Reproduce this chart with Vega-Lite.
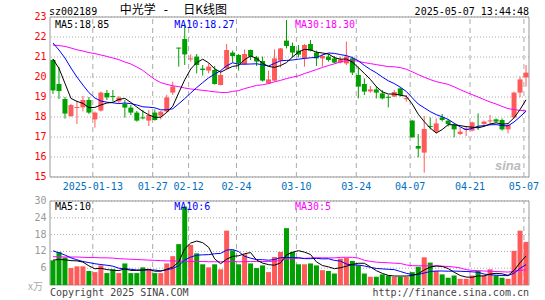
{
"$schema":"https://vega.github.io/schema/vega-lite/v6.json",
"width":479,"height":268,
"autosize":"none",
"padding":{"left":50,"top":17,"right":16,"bottom":15},
"background":"white",
"config":{"view":{"stroke":null},"scale":{"bandPaddingInner":0,"bandPaddingOuter":0}},
"datasets":{
"k":[
{"d":"2025-01-02","o":20.85,"h":20.9,"l":19.15,"c":19.33,"v":8.8,"m5":20.9,"m10":21.7,"m30":21.6,"vm5":8.9,"vm10":12.2,"vm30":10.1},
{"d":"2025-01-03","o":19.65,"h":20.5,"l":18.9,"c":19.3,"v":11.8,"m5":20.43,"m10":21.35,"m30":21.57,"vm5":9.1,"vm10":11.5,"vm30":10.1},
{"d":"2025-01-06","o":18.9,"h":19.0,"l":17.92,"c":18.17,"v":9.8,"m5":19.68,"m10":20.95,"m30":21.53,"vm5":9.0,"vm10":10.7,"vm30":10.0},
{"d":"2025-01-07","o":18.05,"h":18.65,"l":18.0,"c":18.6,"v":6.05,"m5":18.93,"m10":20.45,"m30":21.45,"vm5":8.7,"vm10":9.7,"vm30":10.0},
{"d":"2025-01-08","o":18.45,"h":18.82,"l":17.65,"c":18.5,"v":6.66,"m5":18.78,"m10":20.0,"m30":21.36,"vm5":8.62,"vm10":9.0,"vm30":10.0},
{"d":"2025-01-09","o":18.48,"h":19.05,"l":18.28,"c":18.85,"v":6.66,"m5":18.68,"m10":19.6,"m30":21.3,"vm5":8.19,"vm10":8.4,"vm30":9.9},
{"d":"2025-01-10","o":18.85,"h":19.0,"l":18.15,"c":18.22,"v":5.0,"m5":18.47,"m10":19.22,"m30":21.22,"vm5":6.83,"vm10":8.0,"vm30":9.8},
{"d":"2025-01-13","o":17.88,"h":18.27,"l":17.47,"c":18.22,"v":4.6,"m5":18.48,"m10":18.95,"m30":21.17,"vm5":5.79,"vm10":7.6,"vm30":9.8},
{"d":"2025-01-14","o":18.32,"h":19.27,"l":18.27,"c":19.22,"v":7.0,"m5":18.6,"m10":18.8,"m30":21.1,"vm5":5.98,"vm10":7.3,"vm30":9.7},
{"d":"2025-01-15","o":19.2,"h":19.35,"l":18.85,"c":18.98,"v":4.25,"m5":18.7,"m10":18.74,"m30":21.03,"vm5":5.5,"vm10":7.06,"vm30":9.7},
{"d":"2025-01-16","o":19.05,"h":19.35,"l":18.77,"c":19.0,"v":5.6,"m5":18.73,"m10":18.71,"m30":20.95,"vm5":5.29,"vm10":6.74,"vm30":9.6},
{"d":"2025-01-17","o":18.78,"h":19.05,"l":18.7,"c":18.97,"v":4.25,"m5":18.88,"m10":18.67,"m30":20.87,"vm5":5.14,"vm10":5.99,"vm30":9.4},
{"d":"2025-01-20","o":18.65,"h":18.85,"l":17.97,"c":18.47,"v":7.7,"m5":18.93,"m10":18.7,"m30":20.75,"vm5":5.76,"vm10":5.78,"vm30":9.3},
{"d":"2025-01-21","o":18.47,"h":18.6,"l":18.1,"c":18.22,"v":4.25,"m5":18.73,"m10":18.67,"m30":20.65,"vm5":5.21,"vm10":5.6,"vm30":9.2},
{"d":"2025-01-22","o":18.22,"h":18.3,"l":17.77,"c":17.82,"v":4.25,"m5":18.5,"m10":18.6,"m30":20.5,"vm5":5.21,"vm10":5.36,"vm30":9.1},
{"d":"2025-01-23","o":17.98,"h":18.35,"l":17.88,"c":17.93,"v":6.3,"m5":18.28,"m10":18.51,"m30":20.33,"vm5":5.35,"vm10":5.32,"vm30":9.0},
{"d":"2025-01-24","o":17.82,"h":18.35,"l":17.55,"c":18.1,"v":5.6,"m5":18.11,"m10":18.49,"m30":20.1,"vm5":5.62,"vm10":5.38,"vm30":8.9},
{"d":"2025-01-27","o":18.22,"h":18.38,"l":17.82,"c":17.85,"v":4.25,"m5":17.98,"m10":18.46,"m30":19.88,"vm5":4.93,"vm10":5.35,"vm30":8.8},
{"d":"2025-02-05","o":18.07,"h":18.3,"l":17.88,"c":18.27,"v":4.25,"m5":17.99,"m10":18.36,"m30":19.72,"vm5":4.93,"vm10":5.07,"vm30":8.7},
{"d":"2025-02-06","o":18.27,"h":19.1,"l":18.2,"c":18.98,"v":7.7,"m5":18.23,"m10":18.36,"m30":19.63,"vm5":5.62,"vm10":5.42,"vm30":8.6},
{"d":"2025-02-07","o":19.22,"h":19.77,"l":19.1,"c":19.52,"v":10.3,"m5":18.54,"m10":18.41,"m30":19.56,"vm5":6.42,"vm10":5.89,"vm30":8.6},
{"d":"2025-02-10","o":21.47,"h":21.47,"l":20.52,"c":21.42,"v":14.6,"m5":19.21,"m10":18.66,"m30":19.52,"vm5":8.22,"vm10":6.92,"vm30":8.5},
{"d":"2025-02-11","o":21.9,"h":22.62,"l":20.6,"c":21.13,"v":28.0,"m5":19.86,"m10":18.92,"m30":19.45,"vm5":12.97,"vm10":8.95,"vm30":8.5},
{"d":"2025-02-12","o":20.88,"h":21.13,"l":20.77,"c":20.93,"v":14.3,"m5":20.4,"m10":19.2,"m30":19.4,"vm5":14.98,"vm10":9.96,"vm30":8.4},
{"d":"2025-02-13","o":21.02,"h":21.15,"l":20.18,"c":20.6,"v":11.3,"m5":20.72,"m10":19.47,"m30":19.37,"vm5":15.7,"vm10":10.66,"vm30":8.4},
{"d":"2025-02-14","o":20.42,"h":20.6,"l":20.07,"c":20.35,"v":7.4,"m5":20.89,"m10":19.72,"m30":19.33,"vm5":15.12,"vm10":10.77,"vm30":8.4},
{"d":"2025-02-17","o":20.32,"h":20.68,"l":20.18,"c":20.52,"v":6.3,"m5":20.71,"m10":19.96,"m30":19.3,"vm5":13.46,"vm10":10.84,"vm30":8.3},
{"d":"2025-02-18","o":20.35,"h":20.55,"l":19.62,"c":19.65,"v":7.4,"m5":20.41,"m10":20.14,"m30":19.26,"vm5":9.34,"vm10":11.16,"vm30":8.3},
{"d":"2025-02-19","o":19.6,"h":20.32,"l":19.58,"c":20.1,"v":5.6,"m5":20.24,"m10":20.32,"m30":19.23,"vm5":7.6,"vm10":11.29,"vm30":8.3},
{"d":"2025-02-20","o":20.43,"h":21.65,"l":20.38,"c":21.35,"v":19.4,"m5":20.39,"m10":20.56,"m30":19.22,"vm5":9.22,"vm10":12.46,"vm30":8.31},
{"d":"2025-02-21","o":21.22,"h":21.32,"l":20.72,"c":21.05,"v":12.4,"m5":20.53,"m10":20.71,"m30":19.28,"vm5":10.22,"vm10":12.67,"vm30":8.43},
{"d":"2025-02-24","o":21.1,"h":21.15,"l":20.32,"c":20.68,"v":7.4,"m5":20.57,"m10":20.64,"m30":19.32,"vm5":10.44,"vm10":11.95,"vm30":8.29},
{"d":"2025-02-25","o":20.65,"h":21.38,"l":20.6,"c":21.15,"v":11.0,"m5":20.87,"m10":20.64,"m30":19.42,"vm5":11.16,"vm10":10.25,"vm30":8.33},
{"d":"2025-02-26","o":21.35,"h":21.37,"l":20.85,"c":21.02,"v":7.7,"m5":21.05,"m10":20.65,"m30":19.5,"vm5":11.58,"vm10":9.59,"vm30":8.38},
{"d":"2025-02-27","o":20.98,"h":21.05,"l":20.55,"c":20.77,"v":6.05,"m5":20.93,"m10":20.66,"m30":19.58,"vm5":8.91,"vm10":9.07,"vm30":8.36},
{"d":"2025-02-28","o":20.8,"h":21.02,"l":19.77,"c":19.82,"v":7.0,"m5":20.69,"m10":20.61,"m30":19.61,"vm5":7.83,"vm10":9.03,"vm30":8.37},
{"d":"2025-03-03","o":19.68,"h":20.32,"l":19.65,"c":19.88,"v":4.6,"m5":20.53,"m10":20.55,"m30":19.67,"vm5":7.27,"vm10":8.86,"vm30":8.36},
{"d":"2025-03-04","o":19.82,"h":21.38,"l":19.77,"c":20.93,"v":10.0,"m5":20.48,"m10":20.68,"m30":19.76,"vm5":7.07,"vm10":9.12,"vm30":8.54},
{"d":"2025-03-05","o":20.82,"h":21.45,"l":20.48,"c":21.43,"v":11.8,"m5":20.57,"m10":20.81,"m30":19.83,"vm5":7.89,"vm10":9.74,"vm30":8.7},
{"d":"2025-03-06","o":21.82,"h":22.85,"l":21.43,"c":21.55,"v":20.3,"m5":20.72,"m10":20.83,"m30":19.92,"vm5":10.74,"vm10":9.83,"vm30":9.23},
{"d":"2025-03-07","o":21.55,"h":21.72,"l":20.98,"c":21.22,"v":11.8,"m5":21.0,"m10":20.85,"m30":19.99,"vm5":11.7,"vm10":9.77,"vm30":9.44},
{"d":"2025-03-10","o":21.32,"h":21.6,"l":20.98,"c":21.12,"v":7.4,"m5":21.25,"m10":20.89,"m30":20.06,"vm5":12.26,"vm10":9.77,"vm30":9.55},
{"d":"2025-03-11","o":20.93,"h":21.65,"l":20.52,"c":21.6,"v":7.4,"m5":21.38,"m10":20.93,"m30":20.17,"vm5":11.74,"vm10":9.41,"vm30":9.54},
{"d":"2025-03-12","o":21.65,"h":21.85,"l":21.28,"c":21.32,"v":7.7,"m5":21.36,"m10":20.96,"m30":20.27,"vm5":10.92,"vm10":9.41,"vm30":9.65},
{"d":"2025-03-13","o":21.22,"h":21.32,"l":20.55,"c":20.93,"v":7.0,"m5":21.24,"m10":20.98,"m30":20.37,"vm5":8.26,"vm10":9.5,"vm30":9.74},
{"d":"2025-03-14","o":20.93,"h":21.15,"l":20.52,"c":21.05,"v":5.3,"m5":21.2,"m10":21.1,"m30":20.48,"vm5":6.96,"vm10":9.33,"vm30":9.71},
{"d":"2025-03-17","o":21.02,"h":21.15,"l":20.77,"c":20.85,"v":5.0,"m5":21.15,"m10":21.2,"m30":20.57,"vm5":6.48,"vm10":9.37,"vm30":9.69},
{"d":"2025-03-18","o":20.93,"h":21.05,"l":20.68,"c":20.72,"v":4.1,"m5":20.97,"m10":21.18,"m30":20.66,"vm5":5.82,"vm10":8.78,"vm30":9.68},
{"d":"2025-03-19","o":20.72,"h":21.02,"l":20.68,"c":20.88,"v":9.4,"m5":20.89,"m10":21.12,"m30":20.75,"vm5":6.16,"vm10":8.54,"vm30":9.86},
{"d":"2025-03-20","o":20.68,"h":21.77,"l":20.6,"c":21.02,"v":9.7,"m5":20.9,"m10":21.07,"m30":20.82,"vm5":6.7,"vm10":7.48,"vm30":9.92},
{"d":"2025-03-21","o":20.93,"h":21.02,"l":20.1,"c":20.22,"v":8.6,"m5":20.74,"m10":20.97,"m30":20.84,"vm5":7.36,"vm10":7.16,"vm30":9.87},
{"d":"2025-03-24","o":20.1,"h":20.52,"l":18.93,"c":19.52,"v":7.0,"m5":20.47,"m10":20.81,"m30":20.78,"vm5":7.76,"vm10":7.12,"vm30":9.61},
{"d":"2025-03-25","o":19.65,"h":19.93,"l":19.1,"c":19.27,"v":4.1,"m5":20.18,"m10":20.58,"m30":20.72,"vm5":7.76,"vm10":6.79,"vm30":8.82},
{"d":"2025-03-26","o":19.28,"h":19.55,"l":19.22,"c":19.38,"v":2.95,"m5":19.88,"m10":20.38,"m30":20.67,"vm5":6.47,"vm10":6.32,"vm30":8.44},
{"d":"2025-03-27","o":19.38,"h":19.55,"l":18.93,"c":19.22,"v":2.95,"m5":19.52,"m10":20.21,"m30":20.62,"vm5":5.12,"vm10":5.91,"vm30":8.16},
{"d":"2025-03-28","o":19.18,"h":19.35,"l":18.88,"c":18.93,"v":3.8,"m5":19.26,"m10":20.0,"m30":20.57,"vm5":4.16,"vm10":5.76,"vm30":8.04},
{"d":"2025-03-31","o":19.01,"h":19.1,"l":18.48,"c":18.96,"v":3.4,"m5":19.15,"m10":19.81,"m30":20.52,"vm5":3.44,"vm10":5.6,"vm30":7.94},
{"d":"2025-04-01","o":19.02,"h":19.35,"l":19.0,"c":19.25,"v":2.95,"m5":19.15,"m10":19.67,"m30":20.51,"vm5":3.21,"vm10":5.49,"vm30":7.79},
{"d":"2025-04-02","o":19.43,"h":19.48,"l":19.02,"c":19.1,"v":2.95,"m5":19.09,"m10":19.49,"m30":20.47,"vm5":3.21,"vm10":4.84,"vm30":7.71},
{"d":"2025-04-03","o":18.89,"h":19.1,"l":18.77,"c":18.94,"v":2.95,"m5":19.04,"m10":19.28,"m30":20.39,"vm5":3.21,"vm10":4.17,"vm30":7.16},
{"d":"2025-04-07","o":17.82,"h":17.85,"l":16.97,"c":16.98,"v":4.6,"m5":18.65,"m10":18.96,"m30":20.26,"vm5":3.37,"vm10":3.77,"vm30":6.9},
{"d":"2025-04-08","o":16.55,"h":17.15,"l":15.98,"c":16.42,"v":6.5,"m5":18.14,"m10":18.65,"m30":20.12,"vm5":3.99,"vm10":3.72,"vm30":6.87},
{"d":"2025-04-09","o":16.22,"h":18.05,"l":15.22,"c":17.4,"v":9.9,"m5":17.77,"m10":18.46,"m30":19.99,"vm5":5.38,"vm10":4.3,"vm30":6.83},
{"d":"2025-04-10","o":17.55,"h":17.98,"l":17.38,"c":17.5,"v":8.0,"m5":17.45,"m10":18.27,"m30":19.87,"vm5":6.39,"vm10":4.8,"vm30":6.84},
{"d":"2025-04-11","o":17.27,"h":17.93,"l":17.18,"c":17.68,"v":5.0,"m5":17.2,"m10":18.12,"m30":19.77,"vm5":6.8,"vm10":5.0,"vm30":6.81},
{"d":"2025-04-14","o":17.98,"h":18.15,"l":17.77,"c":17.85,"v":3.8,"m5":17.37,"m10":18.01,"m30":19.7,"vm5":6.64,"vm10":5.0,"vm30":6.7},
{"d":"2025-04-15","o":17.82,"h":17.9,"l":17.52,"c":17.65,"v":2.6,"m5":17.62,"m10":17.88,"m30":19.63,"vm5":5.86,"vm10":4.93,"vm30":6.63},
{"d":"2025-04-16","o":17.6,"h":17.68,"l":16.98,"c":17.38,"v":3.4,"m5":17.61,"m10":17.69,"m30":19.51,"vm5":4.56,"vm10":4.97,"vm30":6.41},
{"d":"2025-04-17","o":17.15,"h":17.48,"l":17.1,"c":17.27,"v":2.2,"m5":17.57,"m10":17.51,"m30":19.37,"vm5":3.4,"vm10":4.9,"vm30":6.09},
{"d":"2025-04-18","o":17.35,"h":17.55,"l":17.05,"c":17.43,"v":2.2,"m5":17.52,"m10":17.36,"m30":19.24,"vm5":2.84,"vm10":4.82,"vm30":5.49},
{"d":"2025-04-21","o":17.32,"h":17.77,"l":17.28,"c":17.73,"v":3.4,"m5":17.49,"m10":17.43,"m30":19.12,"vm5":2.76,"vm10":4.7,"vm30":5.21},
{"d":"2025-04-22","o":17.52,"h":18.18,"l":17.35,"c":17.47,"v":5.0,"m5":17.46,"m10":17.54,"m30":19.0,"vm5":3.24,"vm10":4.55,"vm30":5.13},
{"d":"2025-04-23","o":17.65,"h":17.82,"l":17.6,"c":17.77,"v":3.4,"m5":17.53,"m10":17.57,"m30":18.87,"vm5":3.24,"vm10":3.9,"vm30":5.0},
{"d":"2025-04-24","o":17.78,"h":18.1,"l":17.6,"c":17.83,"v":5.6,"m5":17.65,"m10":17.61,"m30":18.75,"vm5":3.92,"vm10":3.66,"vm30":4.93},
{"d":"2025-04-25","o":17.88,"h":17.93,"l":17.72,"c":17.77,"v":3.4,"m5":17.71,"m10":17.62,"m30":18.65,"vm5":4.16,"vm10":3.5,"vm30":4.81},
{"d":"2025-04-28","o":17.85,"h":17.93,"l":17.32,"c":17.38,"v":2.6,"m5":17.64,"m10":17.57,"m30":18.53,"vm5":4.0,"vm10":3.38,"vm30":4.72},
{"d":"2025-04-29","o":17.38,"h":17.68,"l":17.18,"c":17.6,"v":2.2,"m5":17.67,"m10":17.56,"m30":18.42,"vm5":3.44,"vm10":3.34,"vm30":4.62},
{"d":"2025-04-30","o":17.98,"h":19.27,"l":17.93,"c":19.22,"v":12.2,"m5":17.96,"m10":17.75,"m30":18.37,"vm5":5.2,"vm10":4.22,"vm30":4.89},
{"d":"2025-05-06","o":19.22,"h":20.02,"l":18.98,"c":19.88,"v":19.4,"m5":18.37,"m10":18.01,"m30":18.33,"vm5":7.96,"vm10":5.94,"vm30":5.23},
{"d":"2025-05-07","o":19.98,"h":20.6,"l":19.52,"c":20.22,"v":15.4,"m5":18.86,"m10":18.29,"m30":18.31,"vm5":10.36,"vm10":7.26,"vm30":5.42}
],
"grid":[
{"d":"2025-01-13","lab":"2025-01-13"},{"d":"2025-01-27","lab":"01-27"},{"d":"2025-02-12","lab":"02-12"},{"d":"2025-02-24","lab":"02-24"},{"d":"2025-03-10","lab":"03-10"},{"d":"2025-03-24","lab":"03-24"},{"d":"2025-04-07","lab":"04-07"},{"d":"2025-04-21","lab":"04-21"},{"d":"2025-05-07","lab":"05-07"}
],
"pt":[{"p":15},{"p":16},{"p":17},{"p":18},{"p":19},{"p":20},{"p":21},{"p":22},{"p":23}],
"vt":[{"v":6},{"v":12},{"v":18},{"v":24},{"v":30}]
},
"layer":[
{"layer":[
{"data":{"name":"pt"},"mark":{"type":"rule","color":"#aaa","strokeDash":[1,2]},"encoding":{"y":{"field":"p","type":"quantitative","scale":{"domain":[9.6,23],"nice":false,"zero":false},"title":null,"axis":null}}},
{"data":{"name":"pt"},"mark":{"type":"text","align":"right","baseline":"middle","dx":-3.5,"font":"DejaVu Sans Mono","fontSize":10,"color":"#ff0000"},"encoding":{"x":{"datum":"2025-01-02","type":"ordinal","bandPosition":0,"scale":{"type":"band"},"axis":null},"y":{"field":"p","type":"quantitative","scale":{"domain":[9.6,23],"nice":false,"zero":false},"title":null,"axis":null},"text":{"field":"p","type":"quantitative"}}},
{"data":{"values":[{}]},"mark":{"type":"rule","color":"#999"},"encoding":{"y":{"datum":23,"type":"quantitative","scale":{"domain":[9.6,23],"nice":false,"zero":false},"title":null,"axis":null}}},
{"data":{"values":[{}]},"mark":{"type":"rule","color":"#999"},"encoding":{"y":{"datum":15,"type":"quantitative","scale":{"domain":[9.6,23],"nice":false,"zero":false},"title":null,"axis":null}}},
{"data":{"name":"grid"},"mark":{"type":"rule","color":"#aaa","strokeDash":[5,4]},"encoding":{"x":{"field":"d","type":"ordinal","bandPosition":0.15,"scale":{"type":"band"},"axis":null},"y":{"datum":15,"type":"quantitative","scale":{"domain":[9.6,23],"nice":false,"zero":false},"title":null,"axis":null},"y2":{"datum":23}}},
{"data":{"values":[{}]},"mark":{"type":"rule","color":"#999"},"encoding":{"x":{"datum":"2025-01-02","type":"ordinal","bandPosition":0,"scale":{"type":"band"},"axis":null},"y":{"datum":15,"type":"quantitative","scale":{"domain":[9.6,23],"nice":false,"zero":false},"title":null,"axis":null},"y2":{"datum":23}}},
{"data":{"values":[{}]},"mark":{"type":"rule","color":"#999"},"encoding":{"x":{"datum":"2025-05-07","type":"ordinal","bandPosition":1,"scale":{"type":"band"},"axis":null},"y":{"datum":15,"type":"quantitative","scale":{"domain":[9.6,23],"nice":false,"zero":false},"title":null,"axis":null},"y2":{"datum":23}}},
{"data":{"name":"k"},"mark":{"type":"rule","strokeWidth":1},"encoding":{"x":{"field":"d","type":"ordinal","scale":{"type":"band"},"axis":null},"y":{"field":"l","type":"quantitative","scale":{"domain":[9.6,23],"nice":false,"zero":false},"title":null,"axis":null},"y2":{"field":"h"},"color":{"condition":{"test":"datum.c >= datum.o","value":"#ff5a5a"},"value":"#00a000"}}},
{"data":{"name":"k"},"mark":{"type":"bar","width":5},"encoding":{"x":{"field":"d","type":"ordinal","scale":{"type":"band"},"axis":null},"y":{"field":"o","type":"quantitative","scale":{"domain":[9.6,23],"nice":false,"zero":false},"title":null,"axis":null},"y2":{"field":"c"},"color":{"condition":{"test":"datum.c >= datum.o","value":"#ff5a5a"},"value":"#00a000"}}},
{"data":{"name":"k"},"mark":{"type":"line","color":"#ff00ff","strokeWidth":1},"encoding":{"x":{"field":"d","type":"ordinal","scale":{"type":"band"},"axis":null},"y":{"field":"m30","type":"quantitative","scale":{"domain":[9.6,23],"nice":false,"zero":false},"title":null,"axis":null}}},
{"data":{"name":"k"},"mark":{"type":"line","color":"#0000ff","strokeWidth":1},"encoding":{"x":{"field":"d","type":"ordinal","scale":{"type":"band"},"axis":null},"y":{"field":"m10","type":"quantitative","scale":{"domain":[9.6,23],"nice":false,"zero":false},"title":null,"axis":null}}},
{"data":{"name":"k"},"mark":{"type":"line","color":"#000000","strokeWidth":1},"encoding":{"x":{"field":"d","type":"ordinal","scale":{"type":"band"},"axis":null},"y":{"field":"m5","type":"quantitative","scale":{"domain":[9.6,23],"nice":false,"zero":false},"title":null,"axis":null}}},
{"data":{"name":"grid"},"mark":{"type":"text","align":"center","baseline":"middle","font":"DejaVu Sans Mono","fontSize":10,"color":"#0070c0"},"encoding":{"x":{"field":"d","type":"ordinal","bandPosition":0.15,"scale":{"type":"band"},"axis":null},"y":{"datum":14.5,"type":"quantitative","scale":{"domain":[9.6,23],"nice":false,"zero":false},"title":null,"axis":null},"text":{"field":"lab"}}},
{"data":{"values":[{}]},"mark":{"type":"text","align":"left","baseline":"middle","dx":-1,"font":"DejaVu Sans Mono","fontSize":10,"color":"#000"},"encoding":{"x":{"datum":"2025-01-02","type":"ordinal","bandPosition":0,"scale":{"type":"band"},"axis":null},"y":{"datum":23.26,"type":"quantitative","scale":{"domain":[9.6,23],"nice":false,"zero":false},"title":null,"axis":null},"text":{"value":"sz002189"}}},
{"data":{"values":[{}]},"mark":{"type":"text","align":"left","baseline":"middle","dx":4,"font":"Noto Sans CJK SC","fontSize":12,"color":"#000"},"encoding":{"x":{"datum":"2025-01-17","type":"ordinal","bandPosition":0,"scale":{"type":"band"},"axis":null},"y":{"datum":23.33,"type":"quantitative","scale":{"domain":[9.6,23],"nice":false,"zero":false},"title":null,"axis":null},"text":{"value":"中光学"}}},
{"data":{"values":[{}]},"mark":{"type":"text","align":"center","baseline":"middle","dx":2,"font":"DejaVu Sans Mono","fontSize":12,"color":"#000"},"encoding":{"x":{"datum":"2025-02-06","type":"ordinal","bandPosition":0,"scale":{"type":"band"},"axis":null},"y":{"datum":23.33,"type":"quantitative","scale":{"domain":[9.6,23],"nice":false,"zero":false},"title":null,"axis":null},"text":{"value":"-"}}},
{"data":{"values":[{}]},"mark":{"type":"text","align":"left","baseline":"middle","dx":1.5,"font":"Noto Sans CJK SC","fontSize":12,"color":"#000"},"encoding":{"x":{"datum":"2025-02-11","type":"ordinal","bandPosition":0,"scale":{"type":"band"},"axis":null},"y":{"datum":23.33,"type":"quantitative","scale":{"domain":[9.6,23],"nice":false,"zero":false},"title":null,"axis":null},"text":{"value":"日K线图"}}},
{"data":{"values":[{}]},"mark":{"type":"text","align":"right","baseline":"middle","font":"DejaVu Sans Mono","fontSize":10,"color":"#000"},"encoding":{"x":{"datum":"2025-05-07","type":"ordinal","bandPosition":1,"scale":{"type":"band"},"axis":null},"y":{"datum":23.26,"type":"quantitative","scale":{"domain":[9.6,23],"nice":false,"zero":false},"title":null,"axis":null},"text":{"value":"2025-05-07 13:44:48"}}},
{"data":{"values":[{}]},"mark":{"type":"text","align":"left","baseline":"middle","dx":5,"font":"DejaVu Sans Mono","fontSize":10,"color":"#000"},"encoding":{"x":{"datum":"2025-01-02","type":"ordinal","bandPosition":0,"scale":{"type":"band"},"axis":null},"y":{"datum":22.61,"type":"quantitative","scale":{"domain":[9.6,23],"nice":false,"zero":false},"title":null,"axis":null},"text":{"value":"MA5:18.85"}}},
{"data":{"values":[{}]},"mark":{"type":"text","align":"left","baseline":"middle","dx":4.5,"font":"DejaVu Sans Mono","fontSize":10,"color":"#0000ff"},"encoding":{"x":{"datum":"2025-02-07","type":"ordinal","bandPosition":0,"scale":{"type":"band"},"axis":null},"y":{"datum":22.61,"type":"quantitative","scale":{"domain":[9.6,23],"nice":false,"zero":false},"title":null,"axis":null},"text":{"value":"MA10:18.27"}}},
{"data":{"values":[{}]},"mark":{"type":"text","align":"left","baseline":"middle","dx":5.4,"font":"DejaVu Sans Mono","fontSize":10,"color":"#ff00ff"},"encoding":{"x":{"datum":"2025-03-07","type":"ordinal","bandPosition":0,"scale":{"type":"band"},"axis":null},"y":{"datum":22.61,"type":"quantitative","scale":{"domain":[9.6,23],"nice":false,"zero":false},"title":null,"axis":null},"text":{"value":"MA30:18.30"}}},
{"data":{"values":[{}]},"mark":{"type":"text","align":"right","baseline":"alphabetic","dx":-2,"font":"Liberation Sans","fontSize":13,"fontStyle":"italic","fontWeight":"bold","color":"#bbbbbb"},"encoding":{"x":{"datum":"2025-05-07","type":"ordinal","bandPosition":0,"scale":{"type":"band"},"axis":null},"y":{"datum":15.35,"type":"quantitative","scale":{"domain":[9.6,23],"nice":false,"zero":false},"title":null,"axis":null},"text":{"value":"sina"}}}
]},
{"layer":[
{"data":{"name":"vt"},"mark":{"type":"rule","color":"#aaa","strokeDash":[1,2]},"encoding":{"y":{"field":"v","type":"quantitative","scale":{"domain":[0,95.714],"nice":false,"zero":false},"title":null,"axis":null}}},
{"data":{"name":"vt"},"mark":{"type":"text","align":"right","baseline":"middle","dx":-3.5,"font":"DejaVu Sans Mono","fontSize":10,"color":"#999999"},"encoding":{"x":{"datum":"2025-01-02","type":"ordinal","bandPosition":0,"scale":{"type":"band"},"axis":null},"y":{"field":"v","type":"quantitative","scale":{"domain":[0,95.714],"nice":false,"zero":false},"title":null,"axis":null},"text":{"field":"v","type":"quantitative"}}},
{"data":{"values":[{}]},"mark":{"type":"rule","color":"#999"},"encoding":{"y":{"datum":30,"type":"quantitative","scale":{"domain":[0,95.714],"nice":false,"zero":false},"title":null,"axis":null}}},
{"data":{"values":[{}]},"mark":{"type":"rule","color":"#999"},"encoding":{"y":{"datum":0,"type":"quantitative","scale":{"domain":[0,95.714],"nice":false,"zero":false},"title":null,"axis":null}}},
{"data":{"name":"grid"},"mark":{"type":"rule","color":"#aaa","strokeDash":[5,4]},"encoding":{"x":{"field":"d","type":"ordinal","bandPosition":0.15,"scale":{"type":"band"},"axis":null},"y":{"datum":0,"type":"quantitative","scale":{"domain":[0,95.714],"nice":false,"zero":false},"title":null,"axis":null},"y2":{"datum":30}}},
{"data":{"values":[{}]},"mark":{"type":"rule","color":"#999"},"encoding":{"x":{"datum":"2025-01-02","type":"ordinal","bandPosition":0,"scale":{"type":"band"},"axis":null},"y":{"datum":0,"type":"quantitative","scale":{"domain":[0,95.714],"nice":false,"zero":false},"title":null,"axis":null},"y2":{"datum":30}}},
{"data":{"values":[{}]},"mark":{"type":"rule","color":"#999"},"encoding":{"x":{"datum":"2025-05-07","type":"ordinal","bandPosition":1,"scale":{"type":"band"},"axis":null},"y":{"datum":0,"type":"quantitative","scale":{"domain":[0,95.714],"nice":false,"zero":false},"title":null,"axis":null},"y2":{"datum":30}}},
{"data":{"name":"k"},"mark":{"type":"bar","width":5},"encoding":{"x":{"field":"d","type":"ordinal","scale":{"type":"band"},"axis":null},"y":{"field":"v","type":"quantitative","scale":{"domain":[0,95.714],"nice":false,"zero":false},"title":null,"axis":null},"y2":{"datum":0},"color":{"condition":{"test":"datum.c >= datum.o","value":"#ff5a5a"},"value":"#00a000"}}},
{"data":{"name":"k"},"mark":{"type":"line","color":"#ff00ff","strokeWidth":1},"encoding":{"x":{"field":"d","type":"ordinal","scale":{"type":"band"},"axis":null},"y":{"field":"vm30","type":"quantitative","scale":{"domain":[0,95.714],"nice":false,"zero":false},"title":null,"axis":null}}},
{"data":{"name":"k"},"mark":{"type":"line","color":"#0000ff","strokeWidth":1},"encoding":{"x":{"field":"d","type":"ordinal","scale":{"type":"band"},"axis":null},"y":{"field":"vm10","type":"quantitative","scale":{"domain":[0,95.714],"nice":false,"zero":false},"title":null,"axis":null}}},
{"data":{"name":"k"},"mark":{"type":"line","color":"#000000","strokeWidth":1},"encoding":{"x":{"field":"d","type":"ordinal","scale":{"type":"band"},"axis":null},"y":{"field":"vm5","type":"quantitative","scale":{"domain":[0,95.714],"nice":false,"zero":false},"title":null,"axis":null}}},
{"data":{"values":[{}]},"mark":{"type":"text","align":"left","baseline":"middle","dx":5,"font":"DejaVu Sans Mono","fontSize":10,"color":"#000"},"encoding":{"x":{"datum":"2025-01-02","type":"ordinal","bandPosition":0,"scale":{"type":"band"},"axis":null},"y":{"datum":28.0,"type":"quantitative","scale":{"domain":[0,95.714],"nice":false,"zero":false},"title":null,"axis":null},"text":{"value":"MA5:10"}}},
{"data":{"values":[{}]},"mark":{"type":"text","align":"left","baseline":"middle","dx":4.5,"font":"DejaVu Sans Mono","fontSize":10,"color":"#0000ff"},"encoding":{"x":{"datum":"2025-02-07","type":"ordinal","bandPosition":0,"scale":{"type":"band"},"axis":null},"y":{"datum":28.0,"type":"quantitative","scale":{"domain":[0,95.714],"nice":false,"zero":false},"title":null,"axis":null},"text":{"value":"MA10:6"}}},
{"data":{"values":[{}]},"mark":{"type":"text","align":"left","baseline":"middle","dx":5.4,"font":"DejaVu Sans Mono","fontSize":10,"color":"#ff00ff"},"encoding":{"x":{"datum":"2025-03-07","type":"ordinal","bandPosition":0,"scale":{"type":"band"},"axis":null},"y":{"datum":28.0,"type":"quantitative","scale":{"domain":[0,95.714],"nice":false,"zero":false},"title":null,"axis":null},"text":{"value":"MA30:5"}}},
{"data":{"values":[{}]},"mark":{"type":"text","align":"left","baseline":"middle","font":"DejaVu Sans Mono","fontSize":10,"color":"#444"},"encoding":{"x":{"datum":"2025-01-02","type":"ordinal","bandPosition":0,"scale":{"type":"band"},"axis":null},"y":{"datum":-2.8,"type":"quantitative","scale":{"domain":[0,95.714],"nice":false,"zero":false},"title":null,"axis":null},"text":{"value":"Copyright 2025 SINA.COM"}}},
{"data":{"values":[{}]},"mark":{"type":"text","align":"right","baseline":"middle","font":"DejaVu Sans Mono","fontSize":10,"color":"#444"},"encoding":{"x":{"datum":"2025-05-07","type":"ordinal","bandPosition":1,"scale":{"type":"band"},"axis":null},"y":{"datum":-2.8,"type":"quantitative","scale":{"domain":[0,95.714],"nice":false,"zero":false},"title":null,"axis":null},"text":{"value":"http://finance.sina.com.cn"}}},
{"data":{"values":[{}]},"mark":{"type":"text","align":"right","baseline":"middle","dx":-7,"font":"Noto Sans CJK SC","fontSize":10,"color":"#aaaaaa"},"encoding":{"x":{"datum":"2025-01-02","type":"ordinal","bandPosition":0,"scale":{"type":"band"},"axis":null},"y":{"datum":-0.7,"type":"quantitative","scale":{"domain":[0,95.714],"nice":false,"zero":false},"title":null,"axis":null},"text":{"value":"x万"}}}
]}
],
"resolve":{"scale":{"y":"independent"}}
}
